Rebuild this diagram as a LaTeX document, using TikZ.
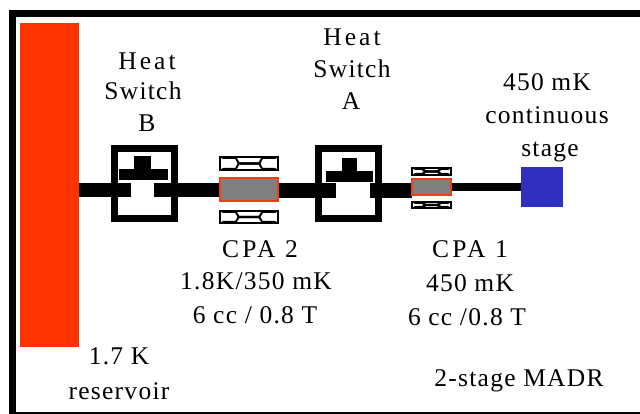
\documentclass[tikz,border=0pt]{standalone}
\usepackage{fontspec}
\setmainfont[LetterSpace=5]{Liberation Serif}
\newfontfamily\widerface[LetterSpace=12]{Liberation Serif}
\definecolor{resred}{HTML}{FF3300}
\definecolor{stageblue}{HTML}{3030C0}
\definecolor{coregray}{HTML}{808080}
\definecolor{coreedge}{HTML}{F04010}
\tikzset{
  x=1pt,y=-1pt,
  lbl/.style={font=\fontsize{25.5}{25.5}\selectfont,inner sep=0pt,anchor=base,text=black},
  widelbl/.style={font=\fontsize{25.5}{25.5}\widerface,inner sep=0pt,anchor=base,text=black},
  thickbar/.style={line width=14.5pt,black},
  thinbar/.style={line width=8pt,black},
  core/.style={draw=coreedge,line width=1.8pt,fill=coregray},
  framebox/.style={draw=black,line width=7pt,fill=white},
  magnetbox/.style={draw=black,line width=1.4pt,fill=white},
}
% \magnetshape{name}{x0}{x1}{y0}{y1}
\newcommand{\magnetshape}[5]{%
  \path[magnetbox] (#2,#4) rectangle (#3,#5) coordinate[pos=.5] (#1);
  \pgfmathsetmacro{\ma}{#2+(#3-#2)*.28}\pgfmathsetmacro{\mb}{#2+(#3-#2)*.72}
  \pgfmathsetmacro{\ym}{(#4+#5)/2}
  \fill[black] (#2,#4) -- (\ma,#4) -- (\ma+3,\ym-1.2) -- (\mb-3,\ym-1.2) -- (\mb,#4) -- (#3,#4)
     -- (#3-3,#4+2) -- (\mb+1,#4+2) -- (\mb-2,\ym+1.2) -- (\ma+2,\ym+1.2) -- (\ma-1,#4+2) -- (#2+3,#4+2) -- cycle;
  \fill[black] (#2,#5) -- (\ma,#5) -- (\ma+3,\ym+1.2) -- (\mb-3,\ym+1.2) -- (\mb,#5) -- (#3,#5)
     -- (#3-3,#5-2) -- (\mb+1,#5-2) -- (\mb-2,\ym-1.2) -- (\ma+2,\ym-1.2) -- (\ma-1,#5-2) -- (#2+3,#5-2) -- cycle;
}
\begin{document}
\begin{tikzpicture}
\useasboundingbox (0,0) rectangle (640,414);
\fill[white] (0,0) rectangle (640,414);
% outer frame
\fill[black] (9,10) rectangle (640,414);
\fill[white] (16,17) rectangle (640,411.5);
% reservoir
\node[fill=resred,inner sep=0pt,minimum width=59pt,minimum height=324pt] (res) at (49.5,185) {};
% stage
\node[fill=stageblue,inner sep=0pt,minimum width=42pt,minimum height=40pt] (stage) at (542,187) {};
% heat switches
\node[framebox,inner sep=0pt,minimum width=60pt,minimum height=70pt,outer sep=0pt] (swB) at (144.5,183.5) {};
\node[framebox,inner sep=0pt,minimum width=60pt,minimum height=70pt,outer sep=0pt] (swA) at (348.5,183.5) {};
\node[fill=black,inner sep=0pt,minimum width=17pt,minimum height=13pt] (swBstem) at (142.5,162.5) {};
\node[fill=black,inner sep=0pt,minimum width=49pt,minimum height=11.5pt] (swBbar) at (143.5,174.5) {};
\node[fill=black,inner sep=0pt,minimum width=15pt,minimum height=14pt] (swAstem) at (349.5,165) {};
\node[fill=black,inner sep=0pt,minimum width=47pt,minimum height=11.5pt] (swAbar) at (349.5,176.5) {};
% contact points
\coordinate (bLend) at (130.5,190);
\coordinate (bRend) at (154,190);
\coordinate (aLend) at (336,190.5);
\coordinate (aRend) at (370,190.5);
% connector anchors
\coordinate (IIw) at (220,190);
\coordinate (IIe) at (278,190.5);
\coordinate (Iw) at (412,190.5);
\coordinate (Ie) at (451,187);
% connectors
\draw[thickbar] (res.east |- bLend) -- (bLend);
\draw[thickbar] (bRend) -- (IIw);
\draw[thickbar] (IIe) -- (aLend);
\draw[thickbar] (aRend) -- (Iw);
\draw[thinbar] (Ie) -- (stage.west |- Ie);
% CPA cores
\node[core,inner sep=0pt,minimum width=58pt,minimum height=23pt] (cpaII) at (249,189.5) {};
\node[core,inner sep=0pt,minimum width=39.5pt,minimum height=16.5pt] (cpaI) at (431.5,187) {};
% magnets
\magnetshape{mIIt}{220}{278}{157}{170}
\magnetshape{mIIb}{220}{278}{211}{223}
\magnetshape{mIt}{412}{451}{168}{175}
\magnetshape{mIb}{412}{451}{202}{208}
% labels
\node[widelbl] (tb1) at (147,70) {Heat};
\node[lbl] (tb2) at (143,100) {Switch};
\node[lbl] (tb3) at (147,132) {B};
\node[widelbl] (ta1) at (352,46) {Heat};
\node[lbl] (ta2) at (352,78) {Switch};
\node[lbl] (ta3) at (351,110) {A};
\node[lbl] (s1) at (547,91) {450 mK};
\node[lbl] (s2) at (547,124) {continuous};
\node[lbl] (s3) at (550,157) {stage};
\node[widelbl] (c21) at (260,258) {CPA 2};
\node[lbl] (c22) at (256,290) {1.8K/350 mK};
\node[lbl] (c23) at (255,323) {6 cc / 0.8 T};
\node[widelbl] (c11) at (470,258) {CPA 1};
\node[lbl] (c12) at (470,291) {450 mK};
\node[lbl] (c13) at (467,325) {6 cc /0.8 T};
\node[lbl] (r1) at (119,364) {1.7 K};
\node[lbl] (r2) at (119,399) {reservoir};
\node[lbl] (m) at (519,386) {2-stage MADR};
\end{tikzpicture}
\end{document}
